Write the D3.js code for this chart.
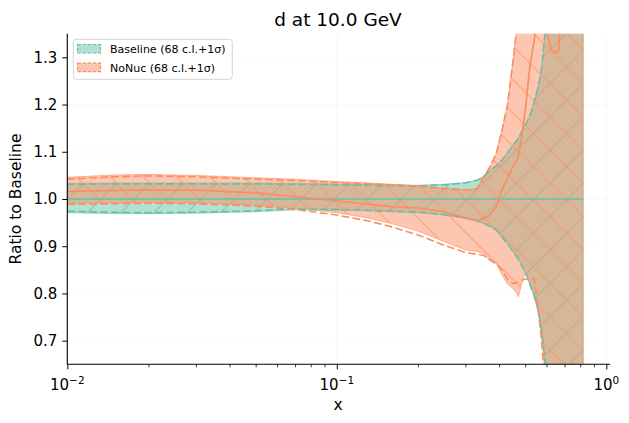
<!DOCTYPE html>
<html><head><meta charset="utf-8">
<script src="https://cdn.jsdelivr.net/npm/d3@7"></script>
<style>body{margin:0;background:#fff} svg{display:block} text{font-family:"DejaVu Sans",sans-serif;fill:#000}</style>
</head><body><svg id="c" width="629" height="423"></svg>
<script>
// ---- data ----
const xGrid = [0.01,0.015,0.02,0.03,0.05,0.07,0.1,0.13,0.16,0.2,0.25,0.3,0.33,0.35,0.37,0.39,0.41,0.43,0.45,0.465,0.472,0.48,0.49,0.5,0.52,0.54,0.56,0.575,0.585,0.595,0.61,0.627,0.655,0.665,0.673,0.7,0.75,0.82];
// Baseline
const baseCentral = [1,1,1,1,1,1,1,1,1,1,1,1,1,1,1,1,1,1,1,1,1,1,1,1,1,1,1,1,1,1,1,1,1,1,1,1,1,1];
const baseUp68 = [1.031,1.032,1.032,1.032,1.032,1.031,1.030,1.029,1.028,1.028,1.030,1.034,1.039,1.047,1.060,1.070,1.082,1.098,1.113,1.124,1.130,1.138,1.146,1.155,1.175,1.205,1.24,1.275,1.32,1.36,1.45,1.6,1.6,1.6,1.6,1.6,1.6,1.6];
const baseLo68 = [0.974,0.972,0.971,0.972,0.975,0.979,0.978,0.976,0.974,0.972,0.967,0.960,0.954,0.949,0.942,0.935,0.920,0.905,0.890,0.878,0.872,0.865,0.855,0.845,0.820,0.795,0.762,0.722,0.685,0.64,0.55,0.4,0.4,0.4,0.4,0.4,0.4,0.4];
const baseUp1s = [1.033,1.034,1.034,1.034,1.034,1.033,1.032,1.031,1.030,1.029,1.031,1.035,1.040,1.048,1.061,1.071,1.083,1.099,1.114,1.125,1.131,1.139,1.147,1.156,1.176,1.206,1.241,1.276,1.321,1.361,1.45,1.6,1.6,1.6,1.6,1.6,1.6,1.6];
const baseLo1s = [0.971,0.969,0.969,0.970,0.973,0.977,0.976,0.975,0.973,0.971,0.966,0.959,0.953,0.948,0.941,0.934,0.919,0.904,0.889,0.877,0.871,0.864,0.854,0.844,0.819,0.794,0.761,0.721,0.684,0.64,0.55,0.4,0.4,0.4,0.4,0.4,0.4,0.4];
// NoNuc
const nonucCentral = [1.016,1.018,1.019,1.019,1.013,1.005,0.996,0.989,0.984,0.981,0.973,0.960,0.955,0.958,0.966,0.984,1.019,1.045,1.068,1.082,1.090,1.115,1.150,1.185,1.280,1.335,1.40,1.45,1.50,1.37,1.338,1.316,1.309,1.315,1.36,1.5,1.55,1.6];
const nonucUp68 = [1.042,1.047,1.049,1.047,1.042,1.039,1.035,1.032,1.030,1.027,1.022,1.019,1.021,1.045,1.068,1.095,1.145,1.20,1.29,1.36,1.40,1.45,1.52,1.6,1.6,1.6,1.6,1.6,1.6,1.6,1.6,1.6,1.6,1.6,1.6,1.6,1.6,1.6];
const nonucLo68 = [0.989,0.990,0.991,0.990,0.985,0.978,0.966,0.954,0.941,0.924,0.902,0.887,0.883,0.881,0.871,0.862,0.850,0.830,0.821,0.823,0.825,0.827,0.829,0.830,0.831,0.832,0.76,0.70,0.64,0.55,0.4,0.4,0.4,0.4,0.4,0.4,0.4,0.4];
const nonucUp1s = [1.046,1.051,1.052,1.050,1.045,1.042,1.037,1.034,1.031,1.028,1.023,1.020,1.022,1.046,1.069,1.096,1.146,1.20,1.29,1.36,1.40,1.45,1.52,1.6,1.6,1.6,1.6,1.6,1.6,1.6,1.6,1.6,1.6,1.6,1.6,1.6,1.6,1.6];
const nonucLo1s = [0.991,0.992,0.993,0.992,0.987,0.981,0.971,0.960,0.948,0.932,0.910,0.892,0.889,0.885,0.870,0.864,0.840,0.820,0.811,0.800,0.793,0.810,0.828,0.843,0.822,0.795,0.758,0.715,0.670,0.60,0.45,0.4,0.4,0.4,0.4,0.4,0.4,0.4];
const yTicks = [0.7,0.8,0.9,1.0,1.1,1.2,1.3];
const xMajor = [0.01,0.1,1];
const xMajorExp = ["−2","−1","0"];
const xMinor = [0.02,0.03,0.04,0.05,0.06,0.07,0.08,0.09,0.2,0.3,0.4,0.5,0.6,0.7,0.8,0.9];
const legendLabels = ["Baseline (68 c.l.+1σ)","NoNuc (68 c.l.+1σ)"];
const titleText = "d at 10.0 GeV";

// ---- drawing ----
const green = "#66c2a5", orange = "#fc8d62";
const m = {l:67.3, r:610, t:33.7, b:364.3};
const x = d3.scaleLog().domain([0.01,1.032]).range([m.l,m.r]);
const y = d3.scaleLinear().domain([0.65,1.35]).range([m.b,m.t]);
const svg = d3.select('#c');
const defs = svg.append('defs');
defs.append('clipPath').attr('id','clip').append('rect')
  .attr('x',m.l).attr('y',m.t).attr('width',m.r-m.l).attr('height',m.b-m.t);
const s = 33.33;
const hB = defs.append('pattern').attr('id','hatchB').attr('patternUnits','userSpaceOnUse').attr('width',s).attr('height',s);
hB.append('path').attr('d',`M0,${s} L${s},0 M-3,3 L3,-3 M${s-3},${s+3} L${s+3},${s-3}`)
  .attr('stroke','#5fa88e').attr('stroke-width',1).attr('stroke-opacity',0.55).attr('fill','none');
const hN = defs.append('pattern').attr('id','hatchN').attr('patternUnits','userSpaceOnUse').attr('width',s).attr('height',s);
hN.append('path').attr('d',`M0,0 L${s},${s} M-3,${s-3} L3,${s+3} M${s-3},-3 L${s+3},3`)
  .attr('stroke',orange).attr('stroke-width',1).attr('stroke-opacity',0.75).attr('fill','none');

// grid
const grid = svg.append('g');
yTicks.forEach(v=>grid.append('line').attr('x1',m.l).attr('x2',m.r).attr('y1',y(v)).attr('y2',y(v))
  .attr('stroke','#b0b0b0').attr('stroke-opacity',0.1).attr('stroke-width',0.8));
xMajor.forEach(v=>grid.append('line').attr('x1',x(v)).attr('x2',x(v)).attr('y1',m.t).attr('y2',m.b)
  .attr('stroke','#b0b0b0').attr('stroke-opacity',0.1).attr('stroke-width',0.8));

const plot = svg.append('g').attr('clip-path','url(#clip)');
const area = (up,lo)=>d3.area().x((d,i)=>x(xGrid[i])).y0((d,i)=>y(lo[i])).y1((d,i)=>y(up[i]))(xGrid);
const line = (vals)=>d3.line().x((d,i)=>x(xGrid[i])).y((d,i)=>y(vals[i]))(xGrid);

function band(up,lo,col,hatch){
  const d = area(up,lo);
  plot.append('path').attr('d',d).attr('fill',col).attr('fill-opacity',0.5)
    .attr('stroke',col).attr('stroke-opacity',0.6).attr('stroke-width',1);
  plot.append('path').attr('d',d).attr('fill',`url(#${hatch})`).attr('stroke','none');
}
band(baseUp1s,baseLo1s,green,'hatchB');
band(nonucUp1s,nonucLo1s,orange,'hatchN');

const dash = "7.7,3.3";
[baseUp68,baseLo68].forEach(v=>plot.append('path').attr('d',line(v)).attr('fill','none')
  .attr('stroke',green).attr('stroke-width',1.6).attr('stroke-dasharray',dash));
[nonucUp68,nonucLo68].forEach(v=>plot.append('path').attr('d',line(v)).attr('fill','none')
  .attr('stroke',orange).attr('stroke-width',1.6).attr('stroke-dasharray',dash));
plot.append('path').attr('d',line(baseCentral)).attr('fill','none').attr('stroke',green).attr('stroke-width',1.7);
plot.append('path').attr('d',line(nonucCentral)).attr('fill','none').attr('stroke',orange).attr('stroke-width',1.7);

// axes
const fs = 15;
const ya = svg.append('g').attr('transform',`translate(${m.l},0)`)
  .call(d3.axisLeft(y).tickValues(yTicks).tickFormat(d3.format('.1f')).tickSize(5).tickSizeOuter(0).tickPadding(5));
ya.select('.domain').attr('d',`M0,${m.t}V${m.b}`).attr('stroke-width',1.1);
ya.selectAll('.tick line').attr('stroke-width',1);
ya.selectAll('.tick text').style('font-size',fs+'px').style('font-family','DejaVu Sans');
ya.attr('font-family',null);

const xa = svg.append('g').attr('transform',`translate(0,${m.b})`)
  .call(d3.axisBottom(x).tickValues(xMajor).tickFormat(()=>'' ).tickSize(5).tickSizeOuter(0));
xa.select('.domain').attr('d',`M${m.l},0H${m.r}`).attr('stroke-width',1.1);
xa.selectAll('.tick line').attr('stroke-width',1);
xa.selectAll('.tick text').remove();
xMajor.forEach((v,i)=>{
  const t = svg.append('text').attr('x',x(v)).attr('y',m.b+26).attr('text-anchor','middle').style('font-size',fs+'px');
  t.append('tspan').text('10');
  t.append('tspan').attr('dy',-6.5).style('font-size','10.5px').text(xMajorExp[i]);
});
const xm = svg.append('g').attr('transform',`translate(0,${m.b})`)
  .call(d3.axisBottom(x).tickValues(xMinor).tickFormat(()=>'').tickSize(3).tickSizeOuter(0));
xm.select('.domain').remove();
xm.selectAll('.tick line').attr('stroke-width',0.8);

// labels
svg.append('text').attr('x',338).attr('y',26).attr('text-anchor','middle').style('font-size','18.5px').text(titleText);
svg.append('text').attr('x',338).attr('y',410).attr('text-anchor','middle').style('font-size','15.5px').text('x');
svg.append('text').attr('transform','translate(21,199) rotate(-90)').attr('text-anchor','middle').style('font-size','15.5px').text('Ratio to Baseline');

// legend
const lg = svg.append('g');
lg.append('rect').attr('x',73.3).attr('y',39.3).attr('width',159).attr('height',40).attr('rx',3)
  .attr('fill','#fff').attr('fill-opacity',0.8).attr('stroke','#d5d5d5').attr('stroke-width',1);
[green,orange].forEach((c,i)=>{
  const yy = 44.5 + i*18.6;
  lg.append('rect').attr('x',77.5).attr('y',yy).attr('width',23).attr('height',8.5)
    .attr('fill',c).attr('fill-opacity',0.5).attr('stroke',c).attr('stroke-width',1.2).attr('stroke-dasharray','3.5,1.6');
  lg.append('text').attr('x',110).attr('y',yy+8.5).style('font-size','11px').text(legendLabels[i]);
});
</script></body></html>
